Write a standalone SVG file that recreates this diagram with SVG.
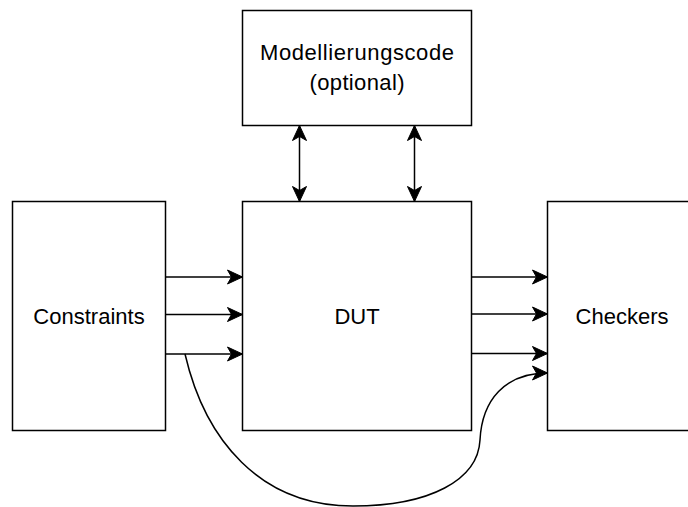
<svg xmlns="http://www.w3.org/2000/svg" width="688" height="507" viewBox="0 0 688 507">
<style>
.box{fill:#fff;stroke:#000;stroke-width:1.5}
.lbl{font-family:"Liberation Sans",Arial,Helvetica,sans-serif;font-size:22px;fill:#000;text-anchor:middle}
.edge{fill:none;stroke:#000;stroke-width:1.5}
</style>
<defs>
<marker id="arr" viewBox="-16 -8 17 16" refX="0" refY="0" markerWidth="17" markerHeight="16" markerUnits="userSpaceOnUse" orient="auto-start-reverse">
<path d="M0,0 L-15,-7 L-11,0 L-15,7 Z" fill="#000" stroke="#000" stroke-width="1"/>
</marker>
</defs>
<rect x="0" y="0" width="688" height="507" fill="#fff"/>
<g id="modell">
<rect class="box" x="242.5" y="10.5" width="229" height="115"/>
<text class="lbl" x="357" y="60" textLength="194" lengthAdjust="spacing">Modellierungscode</text>
<text class="lbl" x="357" y="89.5" textLength="95" lengthAdjust="spacing">(optional)</text>
</g>
<g id="constraints">
<rect class="box" x="12.5" y="201.5" width="153" height="229"/>
<text class="lbl" x="89" y="323.5">Constraints</text>
</g>
<g id="dut">
<rect class="box" x="242.5" y="201.5" width="229" height="229"/>
<text class="lbl" x="357" y="323.5">DUT</text>
</g>
<g id="checkers">
<rect class="box" x="547.5" y="201.5" width="153" height="229"/>
<text class="lbl" x="622" y="323.5">Checkers</text>
</g>
<g id="connectors">
<path class="edge" d="M299.5,125.5 V201.5" marker-start="url(#arr)" marker-end="url(#arr)"/>
<path class="edge" d="M414.5,125.5 V201.5" marker-start="url(#arr)" marker-end="url(#arr)"/>
<path class="edge" d="M165.5,277 H242.5" marker-end="url(#arr)"/>
<path class="edge" d="M165.5,314.5 H242.5" marker-end="url(#arr)"/>
<path class="edge" d="M165.5,354 H242.5" marker-end="url(#arr)"/>
<path class="edge" d="M471.5,277 H547.5" marker-end="url(#arr)"/>
<path class="edge" d="M471.5,314 H547.5" marker-end="url(#arr)"/>
<path class="edge" d="M471.5,353.5 H547.5" marker-end="url(#arr)"/>
<path class="edge" d="M185,354 C205,440 260,506 353,506 C430,506 478,480 480,440 C482,400 505,373 547.5,373" marker-end="url(#arr)"/>
</g>
</svg>
